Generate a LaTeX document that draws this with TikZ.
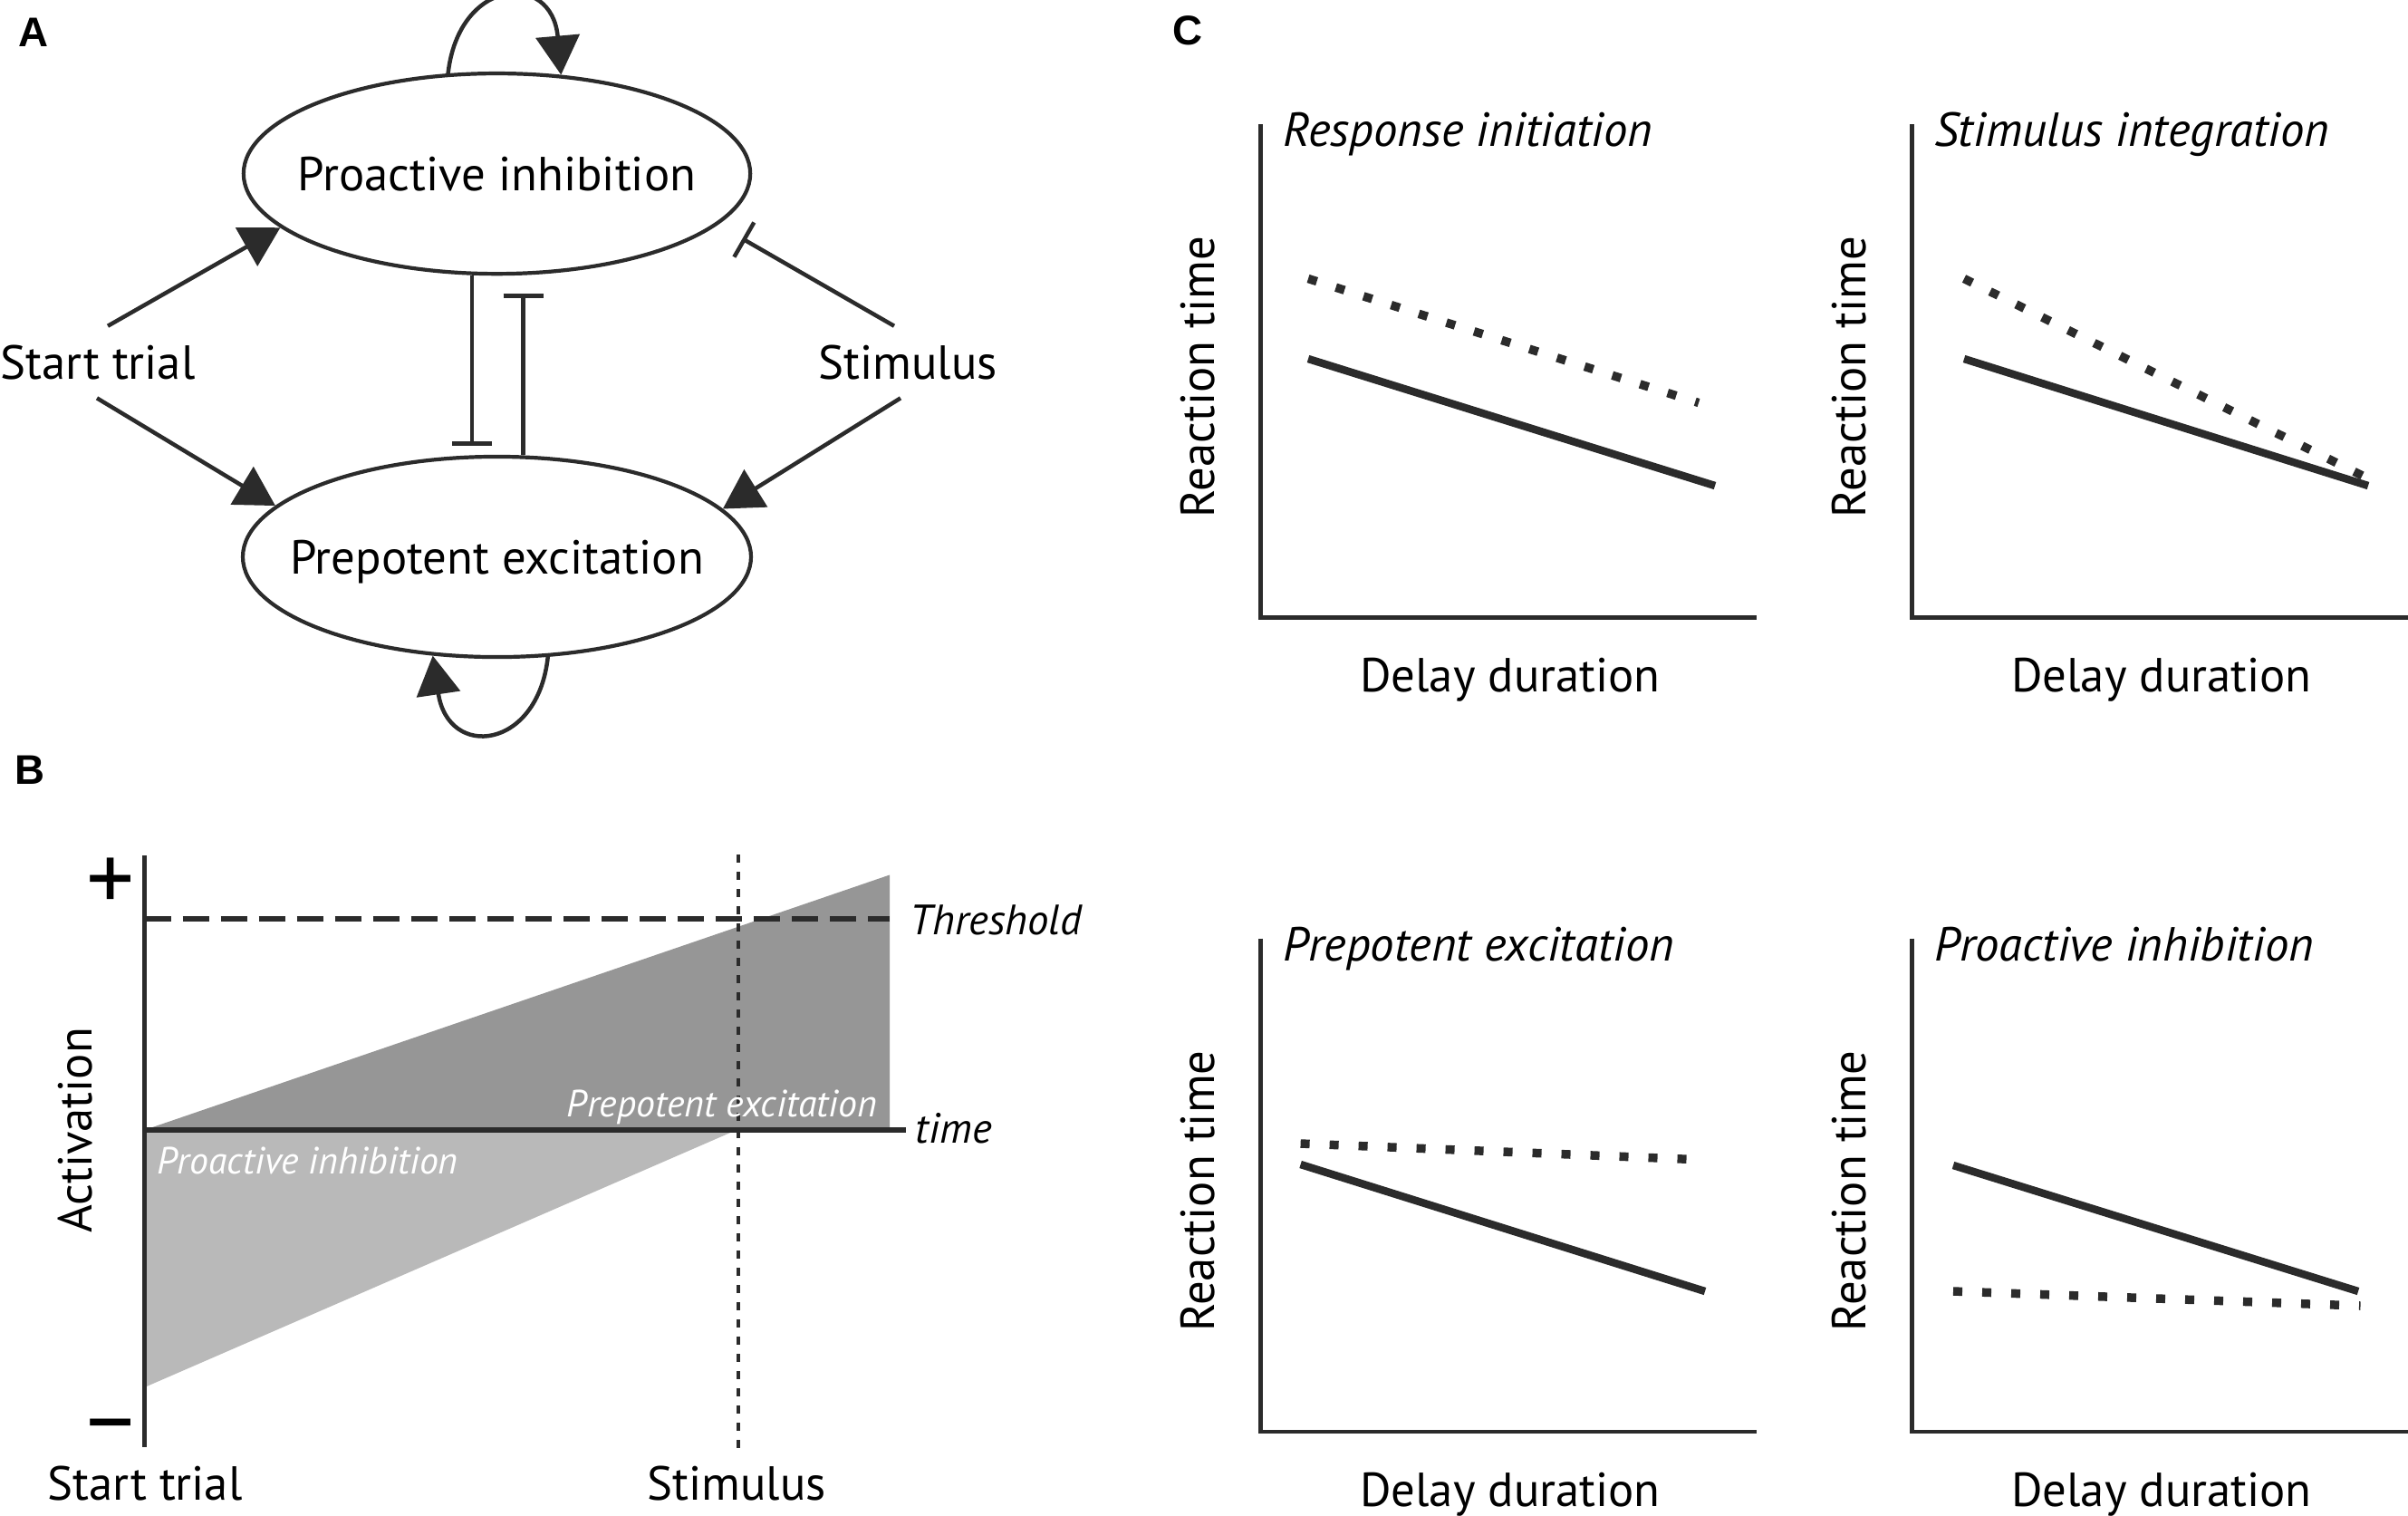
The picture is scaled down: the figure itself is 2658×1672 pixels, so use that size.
\documentclass[tikz,border=0pt]{standalone}
\usepackage{fontspec}
\setmainfont{PT Sans}
\newfontfamily\panelfont{Liberation Sans}
\usetikzlibrary{arrows.meta,shapes.geometric}
\definecolor{ink}{HTML}{2B2B2B}
\definecolor{excfill}{HTML}{969696}
\definecolor{inhfill}{HTML}{B9B9B9}

\begin{document}
\begin{tikzpicture}[x=0.01cm,y=-0.01cm,
every node/.style={font=\fontsize{15}{18}\selectfont,inner sep=0pt},
state/.style={draw=ink,line width=0.042cm,ellipse,inner xsep=-0.3cm,minimum width=5.59cm,minimum height=2.21cm,text depth=0pt},
excite/.style={draw=ink,line width=0.045cm,-{Triangle[length=0.43cm,width=0.48cm]}},
inhibit/.style={draw=ink,line width=0.045cm,-{Bar[width=0.44cm]}},
axis/.style={draw=ink,line width=0.045cm},
solidrt/.style={draw=ink,line width=0.085cm},
dottedrt/.style={draw=ink,line width=0.095cm,dash pattern=on 0.1cm off 0.22cm},
plotitle/.style={font=\fontsize{15}{18}\selectfont\itshape},
sidenote/.style={font=\fontsize{13.3}{16}\selectfont\itshape},
fillnote/.style={font=\fontsize{11.9}{14}\selectfont\itshape,text=white},
panel/.style={font=\panelfont\bfseries\fontsize{13}{15}\selectfont}]
\useasboundingbox (0,0) rectangle (2658,1672);
\node[panel] (la) at (37,36) {A};
\node[panel] (lb) at (33,850) {B};
\node[panel] (lc) at (1311,34) {C};
\node[state] (pro) at (548.5,191.6) {Proactive inhibition};
\node[state] (pre) at (548.5,614.5) {Prepotent excitation};
\node[anchor=base,inner sep=0.2cm] (start) at (108,418) {Start trial};
\node[anchor=base,inner sep=0.2cm] (stim) at (1002,418) {Stimulus};
\draw[excite] ([xshift=0.11cm]start.north) -- (pro.194);
\draw[excite] ([xshift=-0.01cm]start.south) -- (pre.167);
\draw[inhibit,shorten >=0.31cm] ([xshift=-0.15cm]stim.north) -- (pro.-13.3);
\draw[excite] ([xshift=-0.08cm]stim.south) -- (pre.12.4);
\draw[inhibit] (pro.south -| 521,0) -- (521,491.7);
\draw[inhibit] (pre.north -| 577.7,0) -- (577.7,324);
\draw[excite] (pro.116) .. controls +(12,-106) and +(-10,-115) .. (pro.57);
\draw[excite] (pre.297) .. controls +(-11,103) and +(17,115) .. (pre.237);
\fill[excfill] (159.5,1247) -- (982,965.5) -- (982,1247) -- cycle;
\fill[inhfill] (159.5,1247) -- (813,1247) -- (159.5,1531) -- cycle;
\draw[ink,line width=0.06cm,dash pattern=on 0.29cm off 0.13cm] (159.5,1014) -- (982,1014);
\draw[ink,line width=0.045cm,dash pattern=on 0.09cm off 0.1cm] (815,943) -- (815,1599);
\draw[axis] (159.5,944) -- (159.5,1597);
\draw[ink,line width=0.06cm] (159.5,1247) -- (1000,1247);
\node[sidenote,anchor=base west] (thr) at (1004,1031) {Threshold};
\node[sidenote,anchor=base west] (time) at (1010,1261) {time};
\node[fillnote,anchor=base east] (exclab) at (969,1232) {Prepotent excitation};
\node[fillnote,anchor=base west] (inhlab) at (173,1295) {Proactive inhibition};
\node[rotate=90,anchor=base] (act) at (101,1247.5) {Activation};
\node[font=\fontsize{30}{32}\selectfont] (plus) at (122,976) {+};
\node[font=\fontsize{30}{32}\selectfont] (minus) at (122,1586) {−};
\node[anchor=base] (bstart) at (160,1655) {Start trial};
\node[anchor=base] (bstim) at (813,1655) {Stimulus};
\foreach \ox/\oy/\ttl [count=\i] in {1391.6/681.5/Response initiation,2110.6/681.5/Stimulus integration,1391.6/1580/Prepotent excitation,2110.6/1580/Proactive inhibition}{
\draw[axis] (\ox,\oy-544.5) -- (\ox,\oy) -- (\ox+547,\oy);
\node[plotitle,anchor=base west] (title\i) at (\ox+24,\oy-520) {\ttl};
\node[rotate=90,anchor=base] (rt\i) at (\ox-51.6,\oy-265.5) {Reaction time};
\node[anchor=base] (dd\i) at (\ox+275.4,\oy+82) {Delay duration};
}
\draw[solidrt] (1444,396) -- (1893,536);
\draw[dottedrt] (1444,307.5) -- (1875,444.5);
\draw[solidrt] (2168,396) -- (2614,536);
\draw[dottedrt] (2168,307.5) -- (2620,531);
\draw[solidrt] (1435.6,1285) -- (1882,1425);
\draw[dottedrt] (1435.6,1262) -- (1882,1280);
\draw[solidrt] (2156,1286) -- (2603,1425);
\draw[dottedrt] (2156,1425) -- (2605.5,1441);
\end{tikzpicture}
\end{document}
